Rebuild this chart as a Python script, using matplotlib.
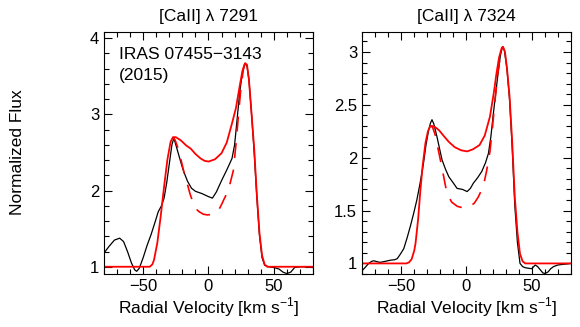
import numpy as np
import matplotlib
matplotlib.use('Agg')
import matplotlib.pyplot as plt
from matplotlib.ticker import MultipleLocator, FormatStrFormatter

plt.rcParams['font.family'] = ['Liberation Sans', 'DejaVu Sans']
plt.rcParams['mathtext.fontset'] = 'custom'
plt.rcParams['mathtext.rm'] = 'Liberation Sans'
plt.rcParams['font.size'] = 12

# ---- [CaII] 7291 : observed profile (black)
v_obs_7291 = [-80, -76, -72, -68, -65, -62, -59, -56.5, -55, -53, -50, -47, -44, -41, -38.5, -36, -34,
              -32, -30, -28, -26.5, -25, -23, -21, -19, -16, -13, -10, -5, 0, 3, 6, 10, 14, 18, 20,
              22, 24, 26, 28, 29.5, 31, 33, 35, 37, 39, 41, 43, 46, 50, 54, 57, 60, 63, 66, 70, 75, 80]
f_obs_7291 = [1.18, 1.27, 1.35, 1.375, 1.33, 1.2, 1.05, 0.96, 0.94, 0.98, 1.12, 1.28, 1.42, 1.58, 1.72, 1.80, 1.9,
              2.1, 2.35, 2.6, 2.69, 2.6, 2.48, 2.36, 2.25, 2.12, 2.03, 1.99, 1.96, 1.92, 1.90, 1.98, 2.13, 2.27, 2.42, 2.6,
              2.95, 3.3, 3.55, 3.67, 3.63, 3.45, 3.0, 2.5, 1.92, 1.42, 1.12, 1.02, 1.0, 0.99, 0.97, 0.93, 0.91, 0.93, 0.99, 1.0, 1.0, 0.99]

# model (red solid)
v_mod_7291 = [-80, -45, -43, -41.7, -39.2, -36.6, -34, -31.5, -29, -27.2, -25, -21.3, -17, -13.6, -10, -6,
              -3, 0, 5, 10, 14, 18, 21, 24, 26, 28, 29.5, 31, 33, 35, 37, 39, 41, 43, 45, 80]
f_mod_7291 = [1.0, 1.0, 1.03, 1.09, 1.31, 1.66, 2.05, 2.40, 2.64, 2.70, 2.70, 2.66, 2.59, 2.55, 2.48, 2.42,
              2.39, 2.38, 2.41, 2.49, 2.63, 2.88, 3.08, 3.38, 3.57, 3.67, 3.65, 3.45, 3.0, 2.55, 1.95, 1.45, 1.15, 1.03, 1.0, 1.0]

# model without central component (red dashed)
v_dash_7291 = [-27.2, -25.5, -23.4, -21, -18.5, -16.7, -14.2, -12, -10.3, -7, -4, -1, 2, 5, 8, 10.1,
               12, 14, 16.5, 19, 21, 23, 25, 27, 28]
f_dash_7291 = [2.70, 2.66, 2.56, 2.40, 2.22, 2.12, 1.96, 1.85, 1.77, 1.72, 1.69, 1.68, 1.685, 1.70, 1.75, 1.82,
               1.89, 1.96, 2.09, 2.26, 2.6, 3.0, 3.38, 3.62, 3.67]

# ---- [CaII] 7324
v_obs_7324 = [-80, -77, -74.9, -72.5, -71, -68, -66, -62, -58.4, -55, -53, -50.5, -48, -45.5, -43, -40.5,
              -38, -35.5, -33, -31, -29, -27.5, -26.4, -25, -22.6, -20.5, -18.7, -16, -13.5, -10, -7.2, -3,
              0.5, 3, 5.3, 8.5, 11.7, 14.5, 16.8, 18.7, 20.6, 22.5, 24.5, 26, 27.6, 29, 31, 33, 35, 37, 39,
              41, 43, 44.8, 47, 50, 52.6, 54.5, 56.5, 58.5, 60.3, 62.5, 64.5, 66.7, 70, 73, 77, 80]
f_obs_7324 = [0.93, 0.97, 1.0, 1.02, 1.025, 1.015, 1.01, 1.02, 1.03, 1.035, 1.045, 1.09, 1.14, 1.24, 1.35, 1.47,
              1.60, 1.76, 1.94, 2.12, 2.26, 2.33, 2.36, 2.32, 2.20, 2.08, 1.98, 1.89, 1.82, 1.76, 1.71, 1.70,
              1.68, 1.71, 1.76, 1.81, 1.87, 1.95, 2.04, 2.2, 2.42, 2.62, 2.83, 2.97, 3.05, 3.02, 2.84, 2.55, 2.1, 1.55, 1.2,
              1.0, 0.97, 0.96, 0.955, 0.95, 0.985, 0.97, 0.94, 0.91, 0.905, 0.92, 0.95, 0.97, 0.985, 0.99, 0.995, 1.0]

v_mod_7324 = [-80, -46, -44, -42, -40, -39, -37, -35.3, -33.5, -31.4, -29.5, -27.6, -26, -24, -21, -17,
              -13.5, -9, -4, 0.5, 5, 10, 14, 18, 21, 23, 25, 27, 28, 29.5, 31, 33, 35, 37, 39, 41, 43, 45, 80]
f_mod_7324 = [1.0, 1.0, 1.01, 1.04, 1.12, 1.19, 1.42, 1.69, 1.93, 2.14, 2.25, 2.30, 2.30, 2.29, 2.26, 2.20,
              2.15, 2.10, 2.07, 2.06, 2.08, 2.12, 2.21, 2.39, 2.62, 2.80, 2.95, 3.04, 3.05, 3.0, 2.85, 2.58, 2.15, 1.63, 1.3, 1.09, 1.02, 1.0, 1.0]

v_dash_7324 = [-27.6, -26, -24, -22, -20, -18.2, -15.7, -13.5, -11.3, -7, -2.4, 2, 6, 9.1, 12.9, 15.5,
               18, 20, 22, 24, 26, 28]
f_dash_7324 = [2.30, 2.29, 2.22, 2.10, 1.98, 1.87, 1.71, 1.63, 1.58, 1.54, 1.525, 1.535, 1.57, 1.63, 1.73, 1.88,
               2.06, 2.3, 2.56, 2.8, 2.97, 3.05]

fig = plt.figure(figsize=(5.8, 3.27), dpi=100)
ax1 = fig.add_axes([0.1793, 0.1621, 0.3603, 0.7401])
ax2 = fig.add_axes([0.6241, 0.1621, 0.3603, 0.7401])

panels = [
    (ax1, v_obs_7291, f_obs_7291, v_mod_7291, f_mod_7291, v_dash_7291, f_dash_7291,
     '[CaII] λ 7291', (0.905, 4.08), 1, 0.2),
    (ax2, v_obs_7324, f_obs_7324, v_mod_7324, f_mod_7324, v_dash_7324, f_dash_7324,
     '[CaII] λ 7324', (0.9, 3.19), 0.5, 0.1),
]

for ax, vo, fo, vm, fm, vd, fd, title, ylim, major, minor in panels:
    ax.plot(vo, fo, color='black', lw=0.9)
    ax.plot(vd, fd, color='red', lw=1.2, linestyle=(2, (9, 7)))
    ax.plot(vm, fm, color='red', lw=1.3)
    ax.set_xlim(-80, 80)
    ax.set_ylim(*ylim)
    ax.set_title(title, fontsize=12.5, pad=8)
    ax.set_xlabel('Radial Velocity [km s$^{-1}$]', fontsize=12.5, labelpad=1)
    ax.xaxis.set_major_locator(MultipleLocator(50))
    ax.xaxis.set_minor_locator(MultipleLocator(10))
    ax.yaxis.set_major_locator(MultipleLocator(major))
    ax.yaxis.set_minor_locator(MultipleLocator(minor))
    ax.yaxis.set_major_formatter(FormatStrFormatter('%g'))
    ax.tick_params(which='both', direction='in', top=True, right=True, labelsize=12)
    ax.tick_params(which='major', length=6, width=0.8)
    ax.tick_params(which='minor', length=3.5, width=0.8)
    for s in ax.spines.values():
        s.set_linewidth(0.8)

ax1.text(0.072, 0.94, 'IRAS 07455\u22123143', transform=ax1.transAxes, ha='left', va='top', fontsize=12.5)
ax1.text(0.072, 0.85, '(2015)', transform=ax1.transAxes, ha='left', va='top', fontsize=12.5)

fig.text(0.031, 0.535, 'Normalized Flux', rotation=90, ha='center', va='center', fontsize=12.5)

fig.savefig('out.png', dpi=100)
